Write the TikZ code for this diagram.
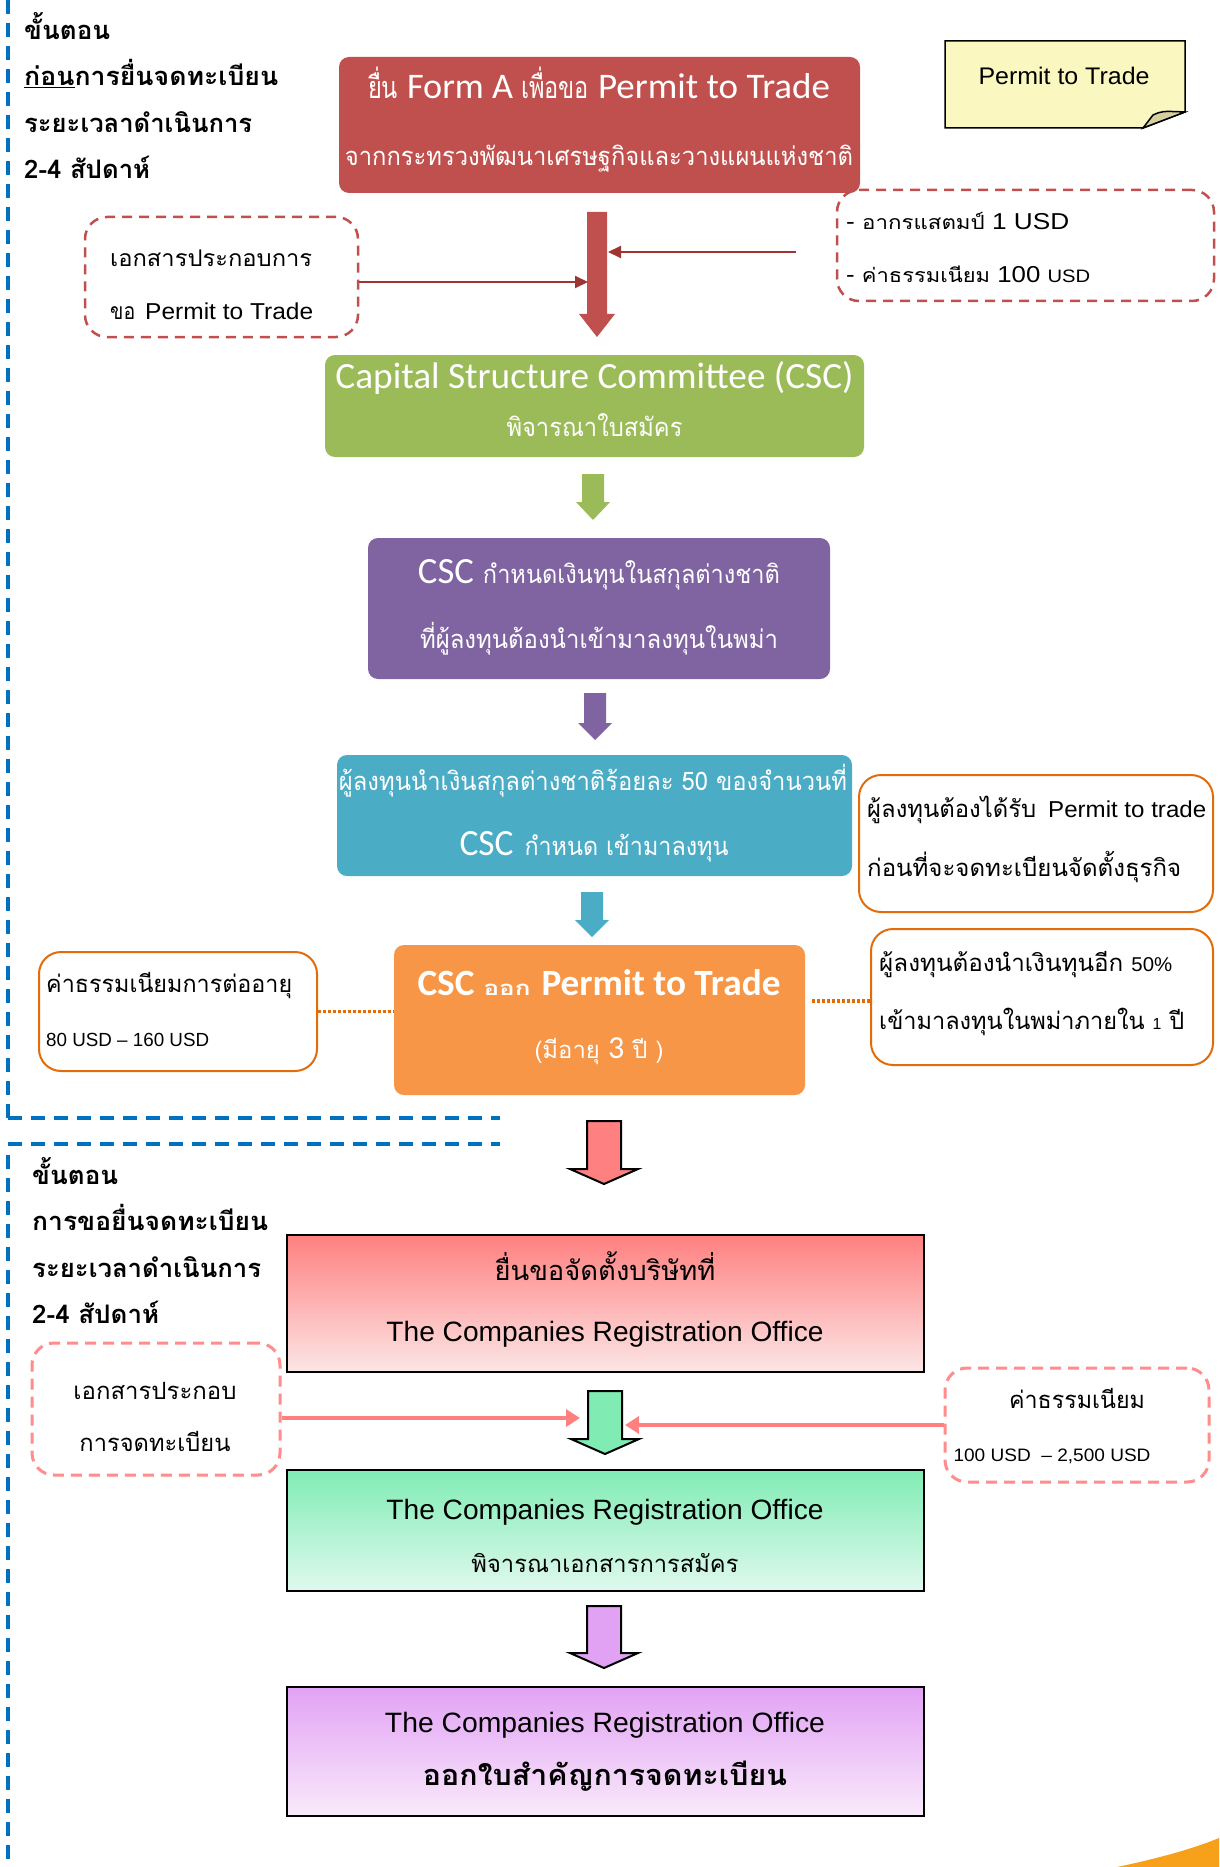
\documentclass[tikz,border=0pt]{standalone}
\usepackage{fontspec}
\usepackage{graphicx}
\setmainfont{Carlito}
\newfontfamily\thai[Script=Thai,Scale=0.85]{Loma}
\newfontfamily\arial{Liberation Sans}
\usetikzlibrary{arrows.meta}
\definecolor{boxred}{HTML}{C0504D}
\definecolor{boxgreen}{HTML}{9BBB59}
\definecolor{boxpurple}{HTML}{8064A2}
\definecolor{boxcyan}{HTML}{4BACC6}
\definecolor{boxorange}{HTML}{F79646}
\definecolor{lineorange}{HTML}{E36C09}
\definecolor{darkred}{HTML}{9E3532}
\definecolor{lineblue}{HTML}{0070C0}
\definecolor{notey}{HTML}{FAF7C0}
\definecolor{notefold}{HTML}{D6D0A0}
\definecolor{pinkc}{HTML}{FF8080}
\definecolor{pinkl}{HTML}{FCE6E6}
\definecolor{mintc}{HTML}{80ECB4}
\definecolor{mintl}{HTML}{E0F9EE}
\definecolor{lilacc}{HTML}{E2A2F4}
\definecolor{lilacl}{HTML}{F9EAFB}
\definecolor{swoosh}{HTML}{F7A11A}
\newcommand\fw[2]{\resizebox{#1pt}{\height}{#2}}
\newcommand\thx[1]{{\thai #1}}
\newcommand\fsz[1]{\fontsize{#1}{#1}\selectfont}
\newcommand\barrow[7]{\path[#7] (#1-#5,#2) -- (#1+#5,#2) -- (#1+#5,#3) -- (#1+#6,#3) -- (#1,#4) -- (#1-#6,#3) -- (#1-#5,#3) -- cycle;}
\tikzset{
  tx/.style={inner sep=0pt, anchor=mid, yshift=-7pt},
  txw/.style={inner sep=0pt, anchor=mid west, yshift=-7pt},
  solidbox/.style={draw=none, rounded corners=10pt, inner sep=0pt},
  dashbox/.style={draw=boxred, line width=2.5pt, dash pattern=on 10pt off 7pt, rounded corners=22pt, inner sep=0pt},
  pinkdash/.style={draw=pinkc!90!white, line width=3pt, dash pattern=on 11pt off 7pt, rounded corners=22pt, inner sep=0pt},
  orbox/.style={draw=lineorange, line width=2pt, rounded corners=22pt, fill=white, inner sep=0pt},
  gradbox/.style={draw=black, line width=2.5pt, inner sep=0pt},
  drline/.style={draw=darkred, line width=2pt, -{Triangle[length=13pt,width=12pt]}},
  pkline/.style={draw=pinkc, line width=4pt, -{Triangle[length=14pt,width=17pt]}},
  dotline/.style={draw=lineorange, line width=3.5pt, dash pattern=on 3pt off 2pt},
  blueline/.style={draw=lineblue, line width=4pt, dash pattern=on 14pt off 9pt},
}
\begin{document}
\begin{tikzpicture}[x=1pt,y=-1pt]
\useasboundingbox (0,0) rectangle (1219,1867);
\fill[white] (0,0) rectangle (1219,1867);

% blue dashed separators
\draw[blueline] (8,0) -- (8,1118);
\draw[blueline] (8,1118) -- (500,1118);
\draw[blueline] (8,1144) -- (500,1144);
\draw[blueline] (8,1155) -- (8,1867);

% swoosh
\fill[swoosh] (1117,1867) .. controls (1160,1858) and (1195,1848) .. (1219,1838) -- (1219,1867) -- cycle;

% headings top
\node[txw, font=\thai\bfseries\fsz{30}] (h1) at (24,30) {\fw{86}{ขั้นตอน}};
\node[txw, font=\thai\bfseries\fsz{30}] (h2) at (24,76) {\fw{254}{\underline{ก่อน}การยื่นจดทะเบียน}};
\node[txw, font=\thai\bfseries\fsz{30}] (h3) at (24,123) {\fw{228}{ระยะเวลาดำเนินการ}};
\node[txw, font=\thai\bfseries\fsz{30}] (h4) at (24,169) {\fw{126}{2-4 สัปดาห์}};

% right dashed fee box (under red box corner)
\node[dashbox, minimum width=377pt, minimum height=111pt] (fees) at (1025.5,245.5) {};
% red box
\node[solidbox, fill=boxred, minimum width=521pt, minimum height=136pt] (form) at (599.5,125) {};
\node[tx, text=white, font=\fsz{36}] (f1) at (599,89) {\fw{30}{\thai ยื่น}\hspace{9pt}\fw{106}{Form A}\hspace{8pt}\fw{68}{\thai เพื่อขอ}\hspace{9pt}\fw{232}{Permit to Trade}};
\node[tx, text=white, font=\thai\fsz{30}] (f2) at (599,156) {\fw{508}{จากกระทรวงพัฒนาเศรษฐกิจและวางแผนแห่งชาติ}};

% sticky note
\filldraw[fill=notey, draw=black, line width=1.5pt] (945,41) -- (1185,41) -- (1185,112) -- (1143,128) -- (945,128) -- cycle;
\filldraw[fill=notefold, draw=black, line width=1.5pt] (1143,128) -- (1153,115) .. controls (1162,111) .. (1185,112) -- cycle;
\node[tx, font=\arial\fsz{24}] (nt) at (1064,75) {\fw{171}{Permit to Trade}};

% left dashed docs box
\node[dashbox, minimum width=273pt, minimum height=120pt] (docs) at (221.5,277) {};
\node[txw, font=\thai\fsz{27}] (d1) at (110,257) {\fw{202}{เอกสารประกอบการ}};
\node[txw, font=\arial\fsz{23}] (d2) at (110,310) {\fw{25}{\thai\fsz{27}ขอ}\hspace{10pt}\fw{168}{Permit to Trade}};

\node[txw, font=\arial\fsz{23}] (s1) at (846,220) {\fw{223}{- \thx{อากรแสตมป์} 1 USD}};
\node[txw, font=\arial\fsz{23}] (s2) at (846,273) {\fw{244}{- \thx{ค่าธรรมเนียม} 100 {\fsz{18}USD}}};

% red block arrow and inputs
\barrow{597}{212}{314}{337}{10}{18}{fill=boxred}
\coordinate (ra) at (588,282);
\coordinate (rs) at (796,252);
\coordinate (rb) at (608,252);
\draw[drline] (docs.east |- ra) -- (ra);
\draw[drline] (rs) -- (rb);

% green box
\node[solidbox, fill=boxgreen, minimum width=539pt, minimum height=102pt] (csc) at (594.5,406) {};
\node[tx, text=white, font=\fsz{37}] (cs1) at (594.5,379) {\fw{518}{Capital Structure Committee (CSC)}};
\node[tx, text=white, font=\thai\fsz{30}] (cs2) at (594.5,427) {\fw{176}{พิจารณาใบสมัคร}};
\barrow{593}{474}{502}{520}{11}{17}{fill=boxgreen}

% purple box
\node[solidbox, fill=boxpurple, minimum width=462pt, minimum height=141pt] (det) at (599,608.5) {};
\node[tx, text=white, font=\fsz{37}] (p1) at (599,574) {\fw{56}{CSC}\hspace{9pt}\fw{297}{\thai\fsz{30}กำหนดเงินทุนในสกุลต่างชาติ}};
\node[tx, text=white, font=\thai\fsz{30}] (p2) at (599,639) {\fw{358}{ที่ผู้ลงทุนต้องนำเข้ามาลงทุนในพม่า}};
\barrow{595}{693}{723}{740}{11}{17}{fill=boxpurple}

% cyan box
\node[solidbox, fill=boxcyan, minimum width=515pt, minimum height=121pt] (inv) at (594.5,815.5) {};
\node[tx, text=white, font=\thai\fsz{30}] (i1) at (593,781) {\fw{508}{ผู้ลงทุนนำเงินสกุลต่างชาติร้อยละ 50 ของจำนวนที่}};
\node[tx, text=white, font=\fsz{37}] (i2) at (594,846) {\fw{54}{CSC}\hspace{11pt}\fw{204}{\thai\fsz{30}กำหนด เข้ามาลงทุน}};
\barrow{592}{892}{920}{937}{11}{17}{fill=boxcyan}

% orange box
\node[solidbox, fill=boxorange, minimum width=411pt, minimum height=150pt] (iss) at (599.5,1020) {};
\node[tx, text=white, font=\bfseries\fsz{37}] (o1) at (599,986) {\fw{57}{CSC}\hspace{9pt}\fw{47}{\thai\fsz{24}ออก}\hspace{11pt}\fw{239}{Permit to Trade}};
\node[tx, text=white, font=\thai\fsz{28}] (o2) at (599,1049) {\fw{129}{(มีอายุ {\normalfont\fsz{32}3} ปี )}};

% orange notes
\node[orbox, minimum width=354pt, minimum height=137pt] (req) at (1036,843.5) {};
\node[txw, font=\thai\fsz{28}] (n1a) at (867,808) {\fw{169}{ผู้ลงทุนต้องได้รับ}\hspace{12pt}\fw{158}{\arial\fsz{23}Permit to trade}};
\node[txw, font=\thai\fsz{28}] (n1b) at (867,867) {\fw{314}{ก่อนที่จะจดทะเบียนจัดตั้งธุรกิจ}};
\node[orbox, minimum width=342pt, minimum height=136pt] (more) at (1042,997) {};
\node[txw, font=\thai\fsz{28}] (n2a) at (879,962) {\fw{293}{ผู้ลงทุนต้องนำเงินทุนอีก {\arial\fsz{20}50\%}}};
\node[txw, font=\thai\fsz{28}] (n2b) at (879,1020) {\fw{305}{เข้ามาลงทุนในพม่าภายใน {\arial\fsz{16}1} ปี}};
\node[orbox, minimum width=278pt, minimum height=119pt] (renew) at (178,1011.5) {};
\node[txw, font=\thai\fsz{28}] (r1) at (46,983) {\fw{246}{ค่าธรรมเนียมการต่ออายุ}};
\node[txw, font=\arial\fsz{19}] (r2) at (46,1037) {\fw{163}{80 USD – 160 USD}};
\draw[dotline] (renew.east) -- (renew.east -| iss.west);
\coordinate (dr) at (812,1001);
\draw[dotline] (dr) -- (dr -| more.west);

% lower section headings
\node[txw, font=\thai\bfseries\fsz{30}] (l1) at (32,1175) {\fw{86}{ขั้นตอน}};
\node[txw, font=\thai\bfseries\fsz{30}] (l2) at (32,1221) {\fw{236}{การขอยื่นจดทะเบียน}};
\node[txw, font=\thai\bfseries\fsz{30}] (l3) at (32,1268) {\fw{229}{ระยะเวลาดำเนินการ}};
\node[txw, font=\thai\bfseries\fsz{30}] (l4) at (32,1314) {\fw{127}{2-4 สัปดาห์}};

% lower block arrows
\barrow{604}{1121}{1169}{1184}{17}{34}{fill=pinkc, draw=black, line width=2pt}

% box A
\node[gradbox, top color=pinkc, bottom color=pinkl, minimum width=637pt, minimum height=137pt] (boxa) at (605.5,1303.5) {};
\node[tx, font=\thai\fsz{32}] (a1) at (605,1271) {\fw{221}{ยื่นขอจัดตั้งบริษัทที่}};
\node[tx, font=\arial\fsz{28}] (a2) at (605,1332) {\fw{437}{The Companies Registration Office}};

% pink dashed boxes
\node[pinkdash, minimum width=248pt, minimum height=132pt] (docs2) at (156,1409) {};
\node[tx, font=\thai\fsz{28}] (e1) at (155,1390) {\fw{163}{เอกสารประกอบ}};
\node[tx, font=\thai\fsz{28}] (e2) at (155,1442) {\fw{151}{การจดทะเบียน}};
\node[pinkdash, minimum width=264pt, minimum height=114pt] (fee2) at (1077,1425) {};
\node[tx, font=\thai\fsz{28}] (g1) at (1077,1399) {\fw{136}{ค่าธรรมเนียม}};
\node[tx, font=\arial\fsz{18}] (g2) at (1052,1452) {\fw{197}{100 USD \ – 2,500 USD}};

\barrow{605}{1391}{1439}{1454}{17}{34}{fill=mintc, draw=black, line width=2pt}
\coordinate (la) at (580,1418);
\coordinate (lb) at (625,1425);
\draw[pkline] (docs2.east |- la) -- (la);
\draw[pkline] (fee2.west |- lb) -- (lb);

% box B
\node[gradbox, top color=mintc, bottom color=mintl, minimum width=637pt, minimum height=121pt] (boxb) at (605.5,1530.5) {};
\node[tx, font=\arial\fsz{28}] (b1) at (605,1510) {\fw{437}{The Companies Registration Office}};
\node[tx, font=\thai\fsz{28}] (b2) at (605,1563) {\fw{267}{พิจารณาเอกสารการสมัคร}};

\barrow{604}{1606}{1653}{1668}{17}{34}{fill=lilacc, draw=black, line width=2pt}

% box C
\node[gradbox, top color=lilacc, bottom color=lilacl, minimum width=637pt, minimum height=129pt] (boxc) at (605.5,1751.5) {};
\node[tx, font=\arial\fsz{28}] (k1) at (605,1723) {\fw{440}{The Companies Registration Office}};
\node[tx, font=\thai\bfseries\fsz{34}] (k2) at (605,1776) {\fw{364}{ออกใบสำคัญการจดทะเบียน}};
\end{tikzpicture}
\end{document}
